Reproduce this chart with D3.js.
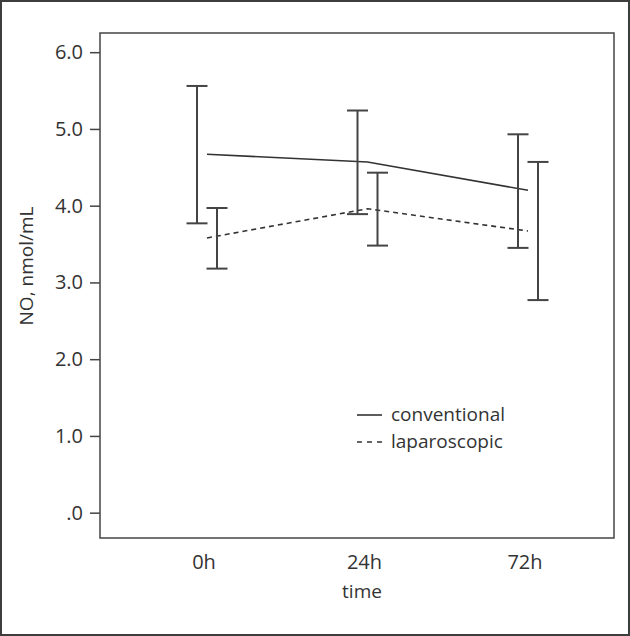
<!DOCTYPE html>
<html><head><meta charset="utf-8">
<script src="https://cdn.jsdelivr.net/npm/d3@7"></script>
<style>
html,body{margin:0;padding:0;background:#fff;}
svg{display:block;}
text{font-family:"Open Sans",Lato,sans-serif;fill:#333;}
</style></head>
<body>
<svg id="chart" width="630" height="636"></svg>
<script>
const categories = ["0h", "24h", "72h"];
const conventionalMean = [4.67, 4.57, 4.20];
const conventionalLow = [3.77, 3.89, 3.45];
const conventionalHigh = [5.56, 5.24, 4.93];
const laparoscopicMean = [3.58, 3.96, 3.67];
const laparoscopicLow = [3.18, 3.48, 2.77];
const laparoscopicHigh = [3.97, 4.43, 4.57];
const yTicks = [0, 1, 2, 3, 4, 5, 6];

const svg = d3.select("#chart");
const W = 630, H = 636;
const box = {left: 100, right: 614, top: 33, bottom: 538};

// outer frame
svg.append("rect").attr("x", 1).attr("y", 1).attr("width", W - 2).attr("height", H - 2)
  .attr("fill", "#fff").attr("stroke", "#3d3d3d").attr("stroke-width", 2);

const x = d3.scalePoint().domain(categories).range([207, 528]);
const y = d3.scaleLinear().domain([-0.33, 6.25]).range([box.bottom, box.top]);

// plot box
svg.append("rect").attr("x", box.left).attr("y", box.top)
  .attr("width", box.right - box.left).attr("height", box.bottom - box.top)
  .attr("fill", "none").attr("stroke", "#444").attr("stroke-width", 1.5);

// y axis
const yAxis = d3.axisLeft(y).tickValues(yTicks).tickSize(10).tickPadding(7)
  .tickFormat(d => d === 0 ? ".0" : d.toFixed(1));
const gy = svg.append("g").attr("transform", `translate(${box.left},0)`).call(yAxis);
gy.select(".domain").remove();
gy.selectAll(".tick line").attr("stroke", "#444").attr("stroke-width", 1.5);
gy.selectAll(".tick text").style("font-size", "20px").style("font-family", "'Open Sans',sans-serif").attr("fill", "#333");

// x labels
svg.append("g").selectAll("text").data(categories).join("text")
  .attr("x", d => x(d) - 3).attr("y", 569).attr("text-anchor", "middle")
  .style("font-size", "20px").text(d => d);

svg.append("text").attr("x", 362).attr("y", 598).attr("text-anchor", "middle")
  .style("font-size", "19px").text("time");

svg.append("text").attr("transform", "translate(33,266) rotate(-90)")
  .attr("text-anchor", "middle").style("font-size", "19px").text("NO, nmol/mL");

// lines
const line = d3.line().x((d, i) => x(categories[i])).y(d => y(d));
svg.append("path").attr("d", line(conventionalMean)).attr("fill", "none")
  .attr("stroke", "#333").attr("stroke-width", 1.6);
svg.append("path").attr("d", line(laparoscopicMean)).attr("fill", "none")
  .attr("stroke", "#333").attr("stroke-width", 1.6).attr("stroke-dasharray", "5,4");

// error bars
function errorBars(low, high, offset) {
  const g = svg.append("g").attr("stroke", "#444").attr("stroke-width", 2);
  categories.forEach((c, i) => {
    const cx = x(c) + offset;
    g.append("line").attr("x1", cx).attr("x2", cx).attr("y1", y(low[i])).attr("y2", y(high[i]));
    g.append("line").attr("x1", cx - 10.5).attr("x2", cx + 10.5).attr("y1", y(low[i])).attr("y2", y(low[i]));
    g.append("line").attr("x1", cx - 10.5).attr("x2", cx + 10.5).attr("y1", y(high[i])).attr("y2", y(high[i]));
  });
}
errorBars(conventionalLow, conventionalHigh, -10);
errorBars(laparoscopicLow, laparoscopicHigh, 10);

// legend
const legend = [
  {label: "conventional", dash: null, y: 415},
  {label: "laparoscopic", dash: "5,5", y: 442}
];
const lg = svg.append("g");
legend.forEach(l => {
  lg.append("line").attr("x1", 357).attr("x2", 382).attr("y1", l.y).attr("y2", l.y)
    .attr("stroke", "#333").attr("stroke-width", 1.6).attr("stroke-dasharray", l.dash);
  lg.append("text").attr("x", 391).attr("y", l.y + 6).style("font-size", "19px").text(l.label);
});
</script>
</body></html>
